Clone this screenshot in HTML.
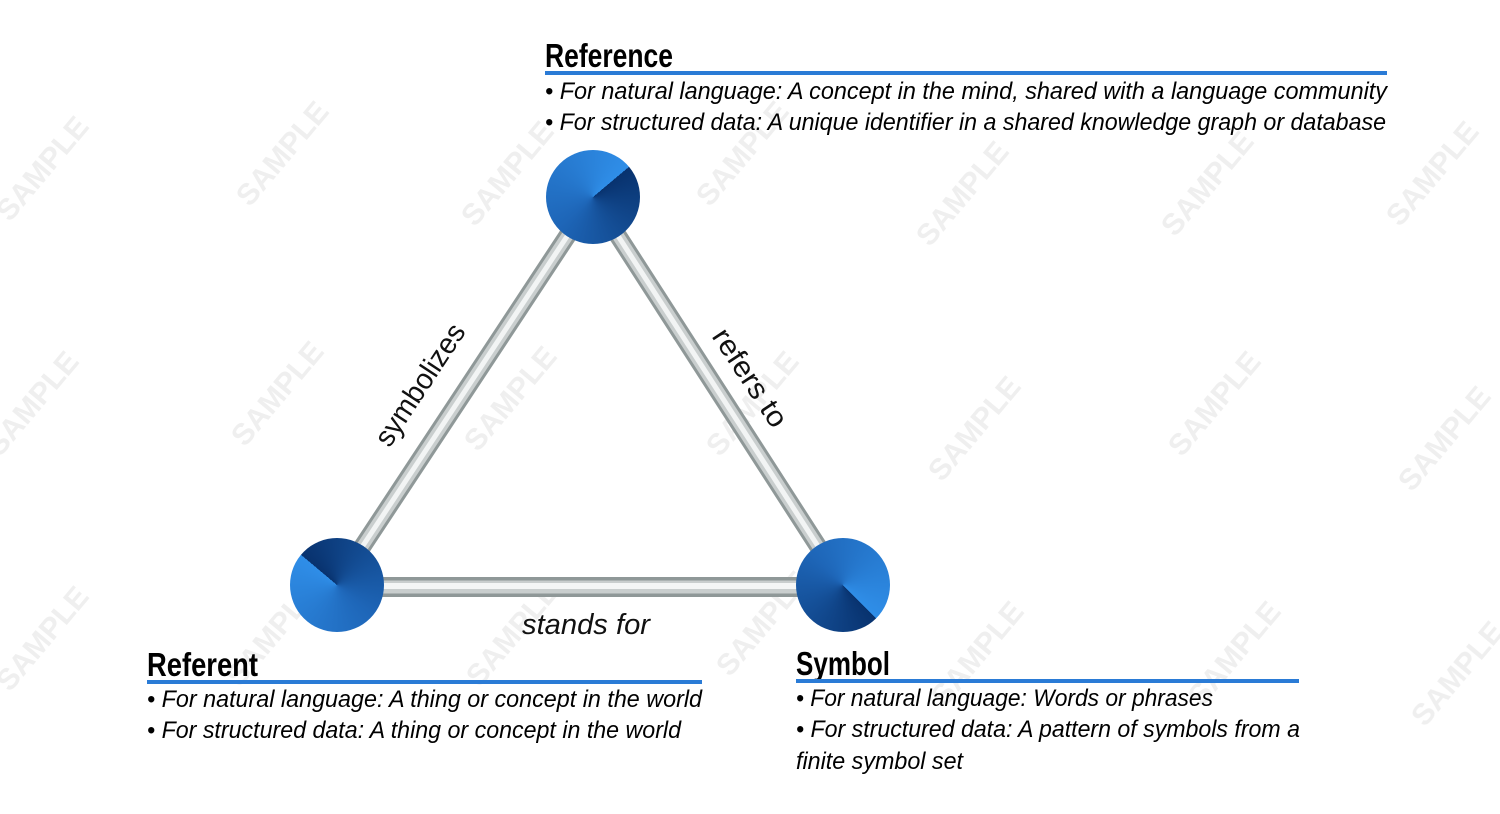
<!DOCTYPE html>
<html><head><meta charset="utf-8"><style>
html,body{margin:0;padding:0;background:#fff;}
#c{position:relative;width:1500px;height:814px;overflow:hidden;background:#fff;}
svg{position:absolute;left:0;top:0;}
.ball{position:absolute;width:94px;height:94px;border-radius:50%;}
</style></head><body><div id="c">
<svg width="1500" height="814" viewBox="0 0 1500 814" xmlns="http://www.w3.org/2000/svg">
<g font-family="Liberation Sans, sans-serif" font-weight="bold" font-size="30" fill="#ebebeb" opacity="0.8">
<text transform="translate(50,175) rotate(-50)" text-anchor="middle">SAMPLE</text>
<text transform="translate(290,160) rotate(-50)" text-anchor="middle">SAMPLE</text>
<text transform="translate(515,180) rotate(-50)" text-anchor="middle">SAMPLE</text>
<text transform="translate(750,160) rotate(-50)" text-anchor="middle">SAMPLE</text>
<text transform="translate(970,200) rotate(-50)" text-anchor="middle">SAMPLE</text>
<text transform="translate(1215,190) rotate(-50)" text-anchor="middle">SAMPLE</text>
<text transform="translate(1440,180) rotate(-50)" text-anchor="middle">SAMPLE</text>
<text transform="translate(40,410) rotate(-50)" text-anchor="middle">SAMPLE</text>
<text transform="translate(285,400) rotate(-50)" text-anchor="middle">SAMPLE</text>
<text transform="translate(518,405) rotate(-50)" text-anchor="middle">SAMPLE</text>
<text transform="translate(760,410) rotate(-50)" text-anchor="middle">SAMPLE</text>
<text transform="translate(982,435) rotate(-50)" text-anchor="middle">SAMPLE</text>
<text transform="translate(1222,410) rotate(-50)" text-anchor="middle">SAMPLE</text>
<text transform="translate(1452,445) rotate(-50)" text-anchor="middle">SAMPLE</text>
<text transform="translate(50,645) rotate(-50)" text-anchor="middle">SAMPLE</text>
<text transform="translate(280,640) rotate(-50)" text-anchor="middle">SAMPLE</text>
<text transform="translate(520,640) rotate(-50)" text-anchor="middle">SAMPLE</text>
<text transform="translate(770,630) rotate(-50)" text-anchor="middle">SAMPLE</text>
<text transform="translate(985,660) rotate(-50)" text-anchor="middle">SAMPLE</text>
<text transform="translate(1242,660) rotate(-50)" text-anchor="middle">SAMPLE</text>
<text transform="translate(1465,680) rotate(-50)" text-anchor="middle">SAMPLE</text>
</g>
<g stroke-linecap="butt">
<line x1="593" y1="197" x2="337" y2="585" stroke="#8f9898" stroke-width="18"/>
<line x1="593" y1="197" x2="337" y2="585" stroke="#c9cece" stroke-width="12"/>
<line x1="593" y1="197" x2="337" y2="585" stroke="#f2f4f4" stroke-width="5"/>
<line x1="593" y1="197" x2="843" y2="585" stroke="#8f9898" stroke-width="18"/>
<line x1="593" y1="197" x2="843" y2="585" stroke="#c9cece" stroke-width="12"/>
<line x1="593" y1="197" x2="843" y2="585" stroke="#f2f4f4" stroke-width="5"/>
<line x1="337" y1="587" x2="843" y2="587" stroke="#8f9898" stroke-width="20"/>
<line x1="337" y1="587" x2="843" y2="587" stroke="#c9cece" stroke-width="13"/>
<line x1="337" y1="586" x2="843" y2="586" stroke="#f4f6f6" stroke-width="6"/>
</g>
<g font-family="Liberation Sans, sans-serif" fill="#111" font-size="29">
<text transform="translate(428,390) rotate(-56.6)" text-anchor="middle" textLength="140" lengthAdjust="spacingAndGlyphs">symbolizes</text>
<text transform="translate(742,383) rotate(56.6)" text-anchor="middle" textLength="112" lengthAdjust="spacingAndGlyphs">refers to</text>
<text x="586" y="634" text-anchor="middle" font-style="italic" textLength="128" lengthAdjust="spacingAndGlyphs">stands for</text>
</g>
<g font-family="Liberation Sans Narrow, Liberation Sans, sans-serif" font-weight="bold" font-size="33" fill="#000">
<text x="545" y="67" textLength="128" lengthAdjust="spacingAndGlyphs">Reference</text>
<text x="147" y="676" textLength="111" lengthAdjust="spacingAndGlyphs">Referent</text>
<text x="796" y="675" textLength="94" lengthAdjust="spacingAndGlyphs">Symbol</text>
</g>
<rect x="545" y="71" width="842" height="4" fill="#2a7bd6"/>
<rect x="147" y="680" width="555" height="4" fill="#2a7bd6"/>
<rect x="796" y="679" width="503" height="4" fill="#2a7bd6"/>
<g font-family="Liberation Sans, sans-serif" font-style="italic" font-size="24" fill="#000">
<text x="545" y="99" textLength="842" lengthAdjust="spacingAndGlyphs">• For natural language: A concept in the mind, shared with a language community</text>
<text x="545" y="130" textLength="841" lengthAdjust="spacingAndGlyphs">• For structured data: A unique identifier in a shared knowledge graph or database</text>
<text x="147" y="707" textLength="555" lengthAdjust="spacingAndGlyphs">• For natural language: A thing or concept in the world</text>
<text x="147" y="738" textLength="534" lengthAdjust="spacingAndGlyphs">• For structured data: A thing or concept in the world</text>
<text x="796" y="706" textLength="417" lengthAdjust="spacingAndGlyphs">• For natural language: Words or phrases</text>
<text x="796" y="737" textLength="504" lengthAdjust="spacingAndGlyphs">• For structured data: A pattern of symbols from a</text>
<text x="796" y="769" textLength="167" lengthAdjust="spacingAndGlyphs">finite symbol set</text>
</g>
</svg>
<div class="ball" style="left:546px;top:150px;background:conic-gradient(from 50deg,#08326e,#1e66b8 50%,#2f8ee8);"></div>
<div class="ball" style="left:290px;top:538px;background:conic-gradient(from 310deg,#08326e,#1e66b8 50%,#2f8ee8);"></div>
<div class="ball" style="left:796px;top:538px;background:conic-gradient(from 135deg,#08326e,#1e66b8 50%,#2f8ee8);"></div>
</div></body></html>
